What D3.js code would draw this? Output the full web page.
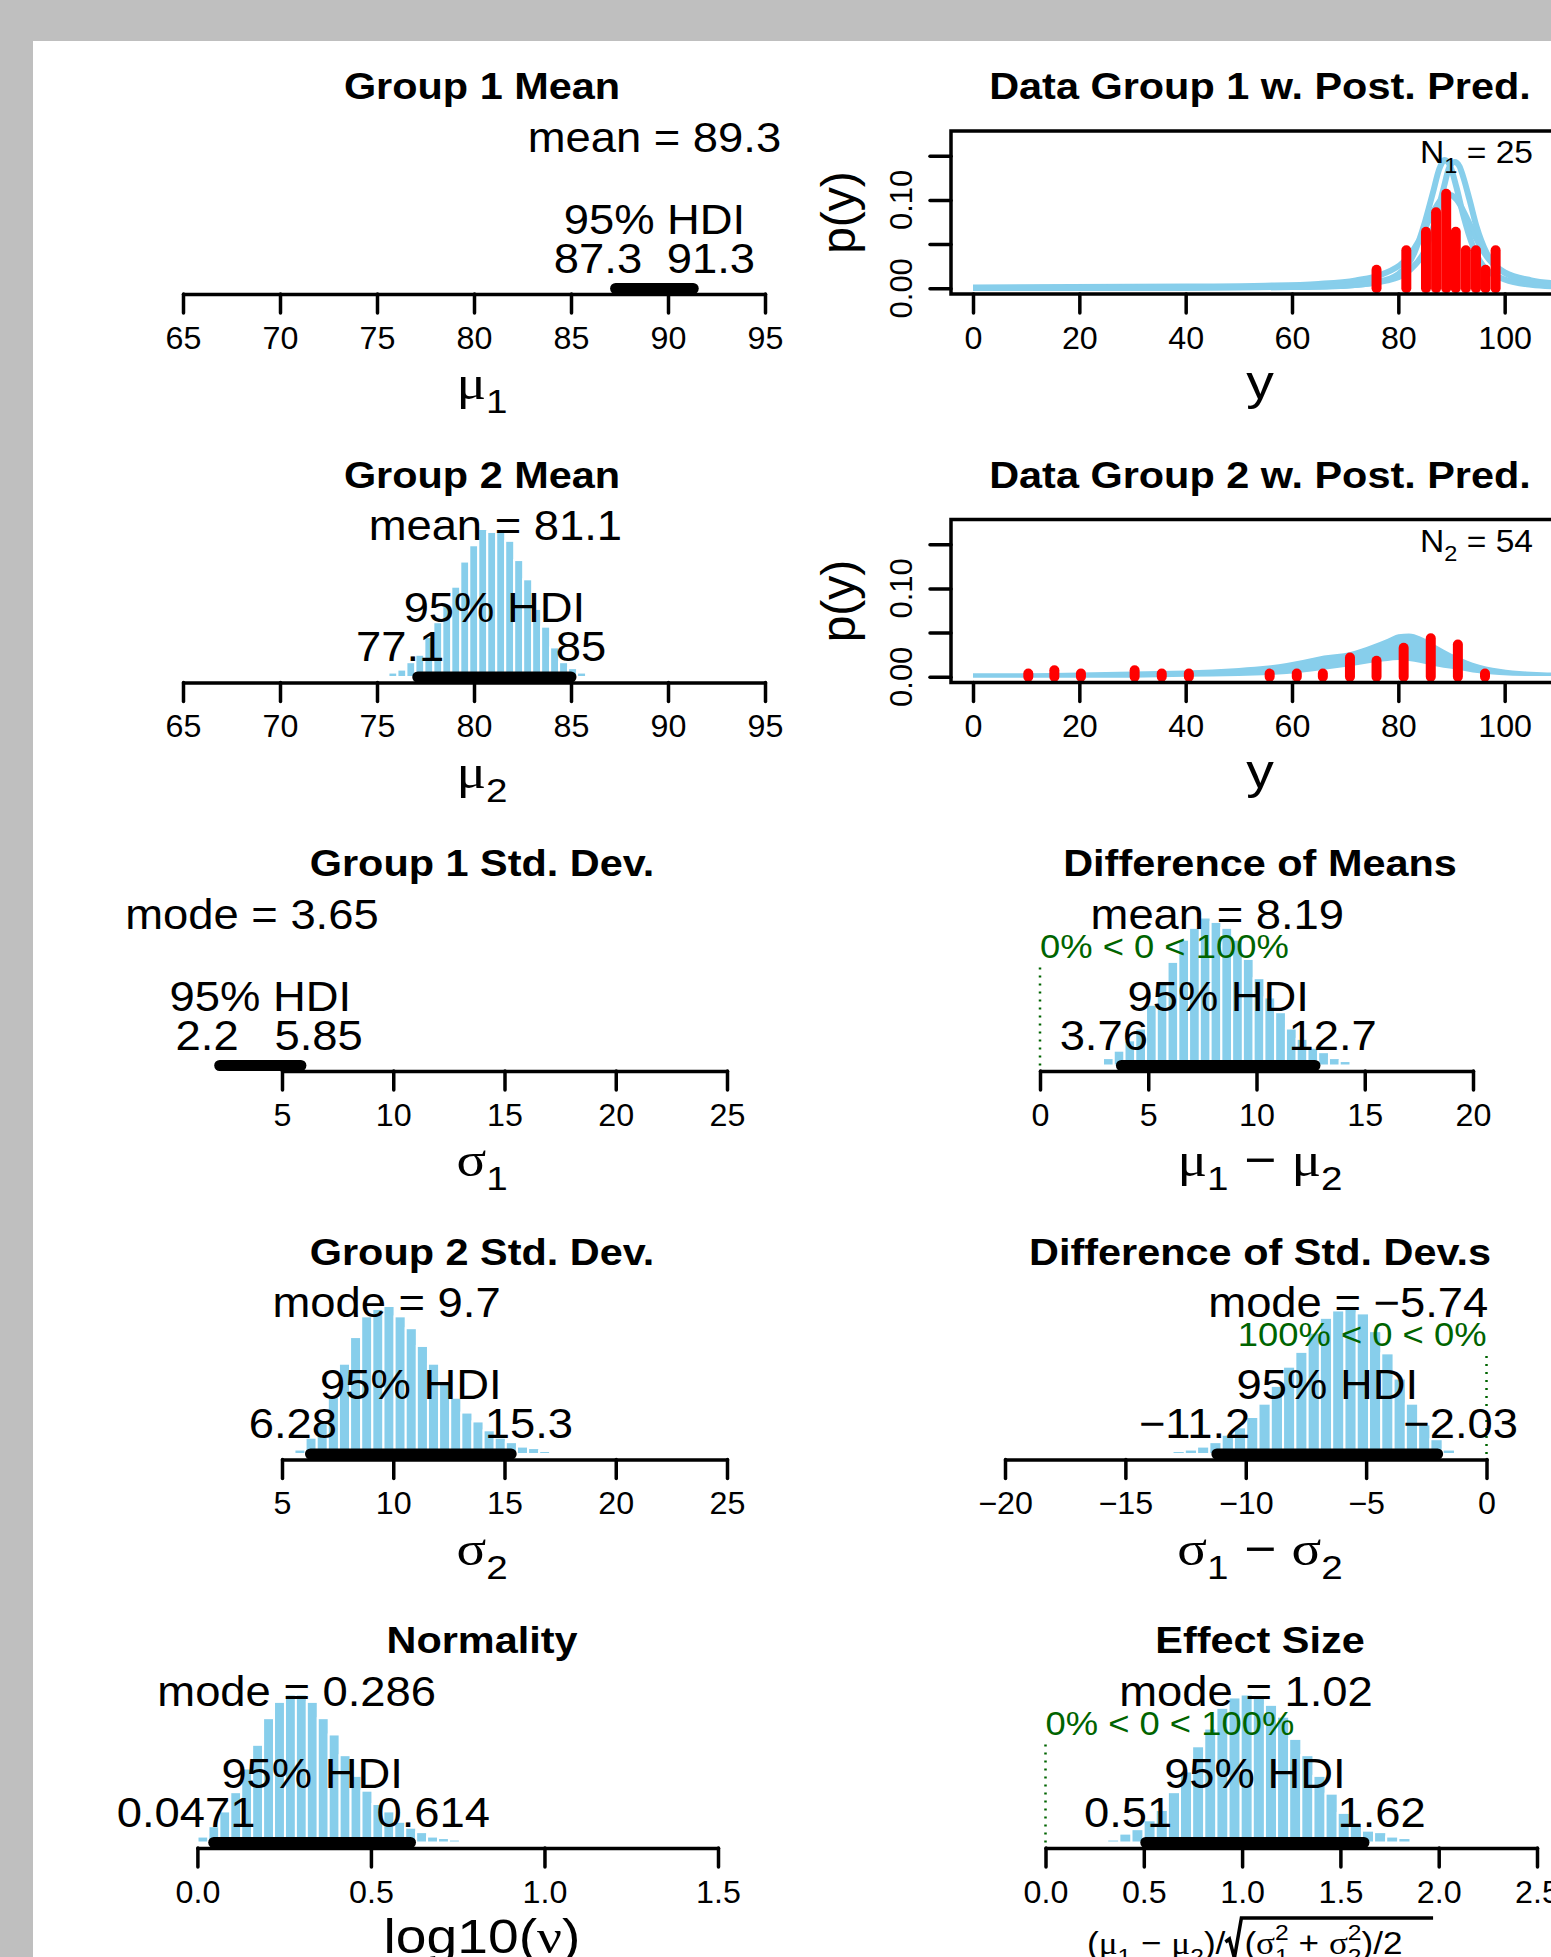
<!DOCTYPE html>
<html lang="en">
<head>
<meta charset="UTF-8">
<title>BEST posterior summary</title>
<script src="https://cdn.jsdelivr.net/npm/d3@7"></script>
<style>
  body { margin: 0; background: #bfbfbf; }
  svg { display: block; }
  text { font-family: "Liberation Sans", Arial, Helvetica, sans-serif; }
</style>
</head>
<body>
<svg id="fig" width="1551" height="1957"></svg>
<script>
// ---------- values ----------
// posterior histograms: bar heights in % of the tallest bar, bins = [first left edge, bin width]
const mu2Heights = [3,5,10,15,27,37,49,61,78,89,100,98,98,92,79,66,46,34,20,10,6,3];
const mu2Bins = [75.59, 0.463];
const sigma2Heights = [3,11,22,39,61,79,93,98,100,93,85,73,61,48,38,28,22,16,11,8,5,4,2,1];
const sigma2Bins = [5.56, 0.5];
const diffMuHeights = [5,10,17,25,41,56,70,85,93,100,97,93,85,72,59,46,36,25,18,12,9,5,3];
const diffMuBins = [2.91, 0.497];
const diffSigmaHeights = [1,2,3,5,8,13,18,25,34,46,59,69,82,92,97,100,95,83,68,51,34,20,10,3];
const diffSigmaBins = [-13.55, 0.51];
const nuHeights = [4,11,21,34,50,66,84,95,100,100,95,84,73,59,45,35,26,21,14,10,7,4,3,2];
const nuBins = [0.0003, 0.0315];
const effectHeights = [2,6,9,15,22,34,48,65,77,91,98,100,98,93,85,70,59,45,33,20,12,8,7,4,3];
const effectBins = [0.314, 0.0617];

// numbers printed on the posterior panels
const postTitles = ["Group 1 Mean", "Group 2 Mean", "Group 1 Std. Dev.", "Difference of Means",
                    "Group 2 Std. Dev.", "Difference of Std. Dev.s", "Normality", "Effect Size"];
const centerNames = ["mean", "mean", "mode", "mean", "mode", "mode", "mode", "mode"];
const centerValues = [89.3, 81.1, 3.65, 8.19, 9.7, -5.74, 0.286, 1.02];
const hdiLow = [87.3, 77.1, 2.2, 3.76, 6.28, -11.2, 0.0471, 0.51];
const hdiHigh = [91.3, 85, 5.85, 12.7, 15.3, -2.03, 0.614, 1.62];
const pctBelowZero = [null, null, null, 0, null, 100, null, 0];

// tick values
const muTicks = [65, 70, 75, 80, 85, 90, 95];
const sigmaTicks = [5, 10, 15, 20, 25];
const diffMuTicks = [0, 5, 10, 15, 20];
const diffSigmaTicks = [-20, -15, -10, -5, 0];
const nuTicks = [0, 0.5, 1, 1.5];
const effectTicks = [0, 0.5, 1, 1.5, 2, 2.5];
const dataXTicks = [0, 20, 40, 60, 80, 100];
const dataYTicks = [0, 0.05, 0.1, 0.15];
const dataYLabels = [0, 0.1];

// observed data (red spikes): bin centres and densities
const group1Y = [75.9, 81.5, 85.2, 87.1, 89.0, 90.8, 92.7, 94.6, 96.4, 98.3];
const group1Dens = [0.021, 0.043, 0.064, 0.086, 0.107, 0.064, 0.043, 0.043, 0.021, 0.043];
const group2Y = [10.4, 15.3, 20.3, 30.4, 35.5, 40.6, 55.8, 60.9, 65.8, 70.9, 75.9, 81.0, 86.1, 91.2, 96.3];
const group2Dens = [0.0036, 0.0073, 0.0036, 0.0073, 0.0036, 0.0036, 0.0036, 0.0036, 0.0036,
                    0.0219, 0.0182, 0.0328, 0.0437, 0.0365, 0.0036];

// posterior predictive curves, group 1: [y, p(y)]
const pred1A = [[0,0.0003],[40,0.0006],[60,0.0015],[70,0.003],[76,0.007],[80,0.016],[83,0.04],[85,0.075],
                [86.5,0.108],[87.7,0.135],[88.7,0.145],[89.7,0.139],[90.9,0.115],[92.2,0.083],[94,0.048],
                [96,0.025],[100,0.01],[105,0.004],[110,0.002]];
const pred1B = [[0,0.0003],[40,0.0006],[60,0.0015],[70,0.003],[78,0.009],[82,0.02],[85,0.043],[87,0.078],
                [88.5,0.113],[89.6,0.137],[90.6,0.143],[91.5,0.138],[92.2,0.126],[93.4,0.1],[94.7,0.07],
                [96.6,0.04],[99.1,0.021],[104,0.009],[108,0.005],[111,0.003]];
const pred1C = [[0,0.001],[40,0.002],[55,0.003],[65,0.005],[72,0.009],[77,0.016],[81,0.03],[84,0.055],
                [86,0.08],[88,0.1],[89.5,0.106],[91,0.1],[93,0.078],[95,0.052],[97,0.033],[100,0.018],
                [105,0.009],[111,0.005]];
// posterior predictive band, group 2 (spread of the curves)
const pred2X  = [0, 10, 20, 30, 40, 50, 56, 62, 66, 71, 75, 78, 80, 82, 84, 87, 90, 94, 99, 104, 108, 111];
const pred2Lo = [-0.001,-0.001,-0.001,-0.001,0,0.001,0.002,0.005,0.008,0.012,0.016,0.018,0.019,0.018,0.016,
                 0.012,0.009,0.005,0.002,0.001,0.001,0.0005];
const pred2Hi = [0.004,0.004,0.005,0.006,0.007,0.01,0.013,0.019,0.024,0.028,0.036,0.043,0.048,0.049,0.046,
                 0.036,0.026,0.016,0.009,0.006,0.005,0.004];

// ---------- drawing ----------
const W = 1551, H = 1957;
const SKY = "#87CEEB", GREEN = "#006400";
const GREEK = '"Liberation Serif", "DejaVu Serif", serif';
const colCenter = [482, 1260];
const axisY = r => 294 + 388.5 * r;

const svg = d3.select("#fig");
svg.append("rect").attr("width", W).attr("height", H).attr("fill", "#bfbfbf");
svg.append("rect").attr("x", 33).attr("y", 41).attr("width", W - 33).attr("height", H - 41).attr("fill", "#fff");

const minus = v => String(v).replace("-", "\u2212");

// text with a horizontal stretch; adj = fraction of the width left of x
function txt(parent, x, y, segs, o) {
  const size = o.size;
  const g = parent.append("g").attr("transform", `translate(${x},${y}) scale(${o.sx || 1},1)`);
  const t = g.append("text").attr("font-size", size).attr("fill", o.fill || "#000")
    .attr("font-weight", o.bold ? "bold" : null);
  if (typeof segs === "string") segs = [{t: segs}];
  let shift = 0;
  segs.forEach(s => {
    const target = s.sub ? 0.3 * size : s.sup ? -0.45 * size : 0;
    const sp = t.append("tspan").text(s.t).attr("dy", target - shift);
    if (s.dx) sp.attr("dx", s.dx * size);
    if (s.sub || s.sup) sp.attr("font-size", size * 0.7);
    if (s.g) sp.attr("font-family", GREEK);
    shift = target;
  });
  const len = t.node().getComputedTextLength();
  t.attr("x", -(o.adj === undefined ? 0.5 : o.adj) * len);
  return t;
}

const TITLE = {size: 37, sx: 1.12, bold: true};
const STAT = {size: 42, sx: 1.08};
const GREENTXT = {size: 34, sx: 1.07, fill: GREEN};
const TICK = 31, TICK_SX = 1.04;
const LAB = {size: 48, sx: 1.15};

function bottomAxis(g, x, y, ticks, fmt) {
  const a = g.append("g").attr("transform", `translate(0,${y})`)
    .call(d3.axisBottom(x).tickValues(ticks).tickSize(19).tickSizeOuter(0).tickPadding(14).tickFormat(fmt));
  a.selectAll("path,line").attr("stroke", "#000").attr("stroke-width", 3.5).attr("stroke-linecap", "round");
  a.selectAll("text").attr("font-size", TICK).attr("font-family", null).attr("fill", "#000")
    .attr("transform", `scale(${TICK_SX},1)`);
  return a;
}

const mu = n => [{t: "\u03bc", g: 1}, {t: n, sub: 1}];
const sg = n => [{t: "\u03c3", g: 1}, {t: n, sub: 1}];

const postPanels = [
  {col: 0, row: 0, dom: [65, 95], px: [183, 765], ticks: muTicks, fmt: d3.format("d"), heights: null, bins: null, xlab: mu("1")},
  {col: 0, row: 1, dom: [65, 95], px: [183, 765], ticks: muTicks, fmt: d3.format("d"), heights: mu2Heights, bins: mu2Bins, xlab: mu("2")},
  {col: 0, row: 2, dom: [5, 25], px: [282, 727], ticks: sigmaTicks, fmt: d3.format("d"), heights: null, bins: null, xlab: sg("1")},
  {col: 1, row: 2, dom: [0, 20], px: [1040, 1473], ticks: diffMuTicks, fmt: d3.format("d"), heights: diffMuHeights, bins: diffMuBins,
   xlab: [...mu("1"), {t: " \u2212 "}, ...mu("2")]},
  {col: 0, row: 3, dom: [5, 25], px: [282, 727], ticks: sigmaTicks, fmt: d3.format("d"), heights: sigma2Heights, bins: sigma2Bins, xlab: sg("2")},
  {col: 1, row: 3, dom: [-20, 0], px: [1005, 1486.5], ticks: diffSigmaTicks, fmt: d3.format("d"), heights: diffSigmaHeights, bins: diffSigmaBins,
   xlab: [...sg("1"), {t: " \u2212 "}, ...sg("2")]},
  {col: 0, row: 4, dom: [0, 1.5], px: [197.4, 718], ticks: nuTicks, fmt: d3.format(".1f"), heights: nuHeights, bins: nuBins,
   xlab: [{t: "log10("}, {t: "\u03bd", g: 1}, {t: ")"}]},
  {col: 1, row: 4, dom: [0, 2.5], px: [1045.5, 1537], ticks: effectTicks, fmt: d3.format(".1f"), heights: effectHeights, bins: effectBins, xlab: null}
];

postPanels.forEach((p, i) => {
  const g = svg.append("g");
  const ay = axisY(p.row), y0 = ay - 5.5;
  const x = d3.scaleLinear().domain(p.dom).range(p.px);
  const y = d3.scaleLinear().domain([0, 100]).range([y0, y0 - 148]);
  const cx = colCenter[p.col];

  // histogram of the posterior sample
  if (p.heights) {
    const edge = k => x(p.bins[0] + k * p.bins[1]);
    g.append("g").selectAll("rect").data(p.heights).join("rect")
      .attr("x", (d, k) => edge(k)).attr("width", (d, k) => edge(k + 1) - edge(k))
      .attr("y", d => y(d)).attr("height", d => y(0) - y(d))
      .attr("fill", SKY).attr("stroke", "#fff").attr("stroke-width", 2);
  }

  bottomAxis(g, x, ay, p.ticks, p.fmt);

  // comparison value
  if (pctBelowZero[i] !== null) {
    g.append("line").attr("x1", x(0)).attr("x2", x(0)).attr("y1", y0).attr("y2", y0 - 103)
      .attr("stroke", GREEN).attr("stroke-width", 2.5).attr("stroke-dasharray", "2,6");
    const pb = pctBelowZero[i];
    txt(g, x(0), y0 - 108, `${pb}% < 0 < ${100 - pb}%`, {...GREENTXT, adj: pb / 100});
  }

  // HDI bar
  g.append("line").attr("x1", x(hdiLow[i])).attr("x2", x(hdiHigh[i])).attr("y1", y0).attr("y2", y0)
    .attr("stroke", "#000").attr("stroke-width", 11).attr("stroke-linecap", "round");

  txt(g, x(centerValues[i]), y0 - 137, `${centerNames[i]} = ${minus(centerValues[i])}`, STAT);
  txt(g, x((hdiLow[i] + hdiHigh[i]) / 2), y0 - 55, "95% HDI", STAT);
  txt(g, x(hdiLow[i]), y0 - 16, minus(hdiLow[i]), {...STAT, adj: 0.7});
  txt(g, x(hdiHigh[i]), y0 - 16, minus(hdiHigh[i]), {...STAT, adj: 0.3});

  txt(g, cx, ay - 195, postTitles[i], TITLE);
  if (p.xlab) txt(g, cx, ay + 105, p.xlab, LAB);
});

// effect size axis label, mostly below the page edge
(function () {
  const g = svg.append("g");
  const base = 1954, size = 32, sx = 1.1;
  const left = txt(g, 0, base, [{t: "("}, ...mu("1"), {t: " \u2212 "}, ...mu("2"), {t: ")/"}], {size, sx, adj: 0});
  const right = txt(g, 0, base, [{t: "("}, {t: "\u03c3", g: 1}, {t: "1", sub: 1}, {t: "2", sup: 1, dx: -0.39},
    {t: " + "}, {t: "\u03c3", g: 1}, {t: "2", sub: 1}, {t: "2", sup: 1, dx: -0.39}, {t: ")/2"}], {size, sx, adj: 0});
  const wl = left.node().getComputedTextLength() * sx, wr = right.node().getComputedTextLength() * sx;
  const rad = 16, total = wl + rad + wr + 6;
  const x0 = colCenter[1] - total / 2;
  d3.select(left.node().parentNode).attr("transform", `translate(${x0},${base}) scale(${sx},1)`);
  d3.select(right.node().parentNode).attr("transform", `translate(${x0 + wl + rad + 3},${base}) scale(${sx},1)`);
  const rx = x0 + wl;
  g.append("path")
    .attr("d", `M${rx},${base - 12} L${rx + 4},${base - 15} L${rx + 9},${base + 4} L${rx + rad},${1918} L${rx + rad + wr + 6},${1918}`)
    .attr("fill", "none").attr("stroke", "#000").attr("stroke-width", 3.5);
})();

// data panels with posterior predictive curves
const dataPanels = [
  {row: 0, title: "Data Group 1 w. Post. Pred.", ys: group1Y, dens: group1Dens, curves: [pred1C, pred1A, pred1B], band: null, n: ["1", "25"]},
  {row: 1, title: "Data Group 2 w. Post. Pred.", ys: group2Y, dens: group2Dens, curves: [], band: [pred2X, pred2Lo, pred2Hi], n: ["2", "54"]}
];

dataPanels.forEach((p, i) => {
  const g = svg.append("g");
  const ay = axisY(p.row);
  const box = {x: 951, y: ay - 163, w: 618, h: 163};
  const x = d3.scaleLinear().domain([-4.14, 112.1]).range([box.x, box.x + box.w]);
  const y = d3.scaleLinear().domain([0, 0.15]).range([ay - 5.7, ay - 5.7 - 132.6]);

  svg.append("clipPath").attr("id", "clip" + i).append("rect")
    .attr("x", box.x).attr("y", box.y).attr("width", box.w).attr("height", box.h);
  const plot = g.append("g").attr("clip-path", `url(#clip${i})`);

  if (p.band) {
    const pts = p.band[0].map((v, k) => [v, p.band[1][k], p.band[2][k]]);
    plot.append("path").datum(pts)
      .attr("d", d3.area().x(d => x(d[0])).y0(d => y(d[1])).y1(d => y(d[2])).curve(d3.curveMonotoneX))
      .attr("fill", SKY);
  }
  p.curves.forEach(c => {
    plot.append("path").datum(c)
      .attr("d", d3.line().x(d => x(d[0])).y(d => y(d[1])).curve(d3.curveMonotoneX))
      .attr("fill", "none").attr("stroke", SKY).attr("stroke-width", 6).attr("stroke-linejoin", "round");
  });
  plot.selectAll("line.obs").data(p.ys).join("line").attr("class", "obs")
    .attr("x1", d => x(d)).attr("x2", d => x(d))
    .attr("y1", y(0)).attr("y2", (d, k) => y(p.dens[k]))
    .attr("stroke", "#f00").attr("stroke-width", 10).attr("stroke-linecap", "round");

  const xa = bottomAxis(g, x, ay, dataXTicks, d3.format("d"));
  xa.select(".domain").remove();

  const ya = g.append("g").attr("transform", `translate(${box.x},0)`)
    .call(d3.axisLeft(y).tickValues(dataYTicks).tickSize(21).tickFormat(""));
  ya.select(".domain").remove();
  ya.selectAll("line").attr("stroke", "#000").attr("stroke-width", 3.5).attr("stroke-linecap", "round");
  dataYLabels.forEach(v => {
    g.append("text").attr("transform", `translate(912,${y(v)}) rotate(-90)`)
      .attr("text-anchor", "middle").attr("font-size", TICK).text(d3.format(".2f")(v));
  });

  g.append("rect").attr("x", box.x).attr("y", box.y).attr("width", box.w).attr("height", box.h)
    .attr("fill", "none").attr("stroke", "#000").attr("stroke-width", 3.5);

  g.append("text").attr("transform", `translate(855,${box.y + box.h / 2}) rotate(-90)`)
    .attr("text-anchor", "middle").attr("font-size", 48).text("p(y)");
  txt(g, 1533, ay - 131, [{t: "N"}, {t: p.n[0], sub: 1}, {t: " = " + p.n[1]}], {size: 32, sx: 1.05, adj: 1});

  txt(g, colCenter[1], ay - 195, p.title, TITLE);
  txt(g, colCenter[1], ay + 105, "y", LAB);
});
</script>
</body>
</html>
